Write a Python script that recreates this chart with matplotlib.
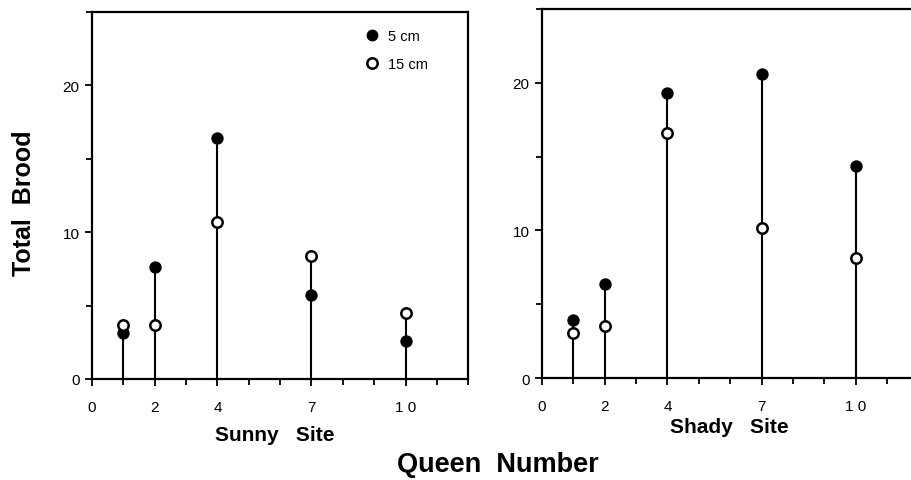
import matplotlib
matplotlib.use('agg')
import matplotlib.pyplot as plt
from matplotlib.lines import Line2D

plt.rcParams['font.family'] = ['Liberation Sans', 'DejaVu Sans']

# данные
queens = [1, 2, 4, 7, 10]
sunny_5cm = [3.15, 7.65, 16.4, 5.7, 2.6]
sunny_15cm = [3.7, 3.65, 10.7, 8.4, 4.5]
shady_5cm = [3.9, 6.4, 19.3, 20.6, 14.4]
shady_15cm = [3.05, 3.55, 16.6, 10.2, 8.1]
x_ticklabels = ['0', '2', '4', '7', '1 0']
x_tickpos = [0, 2, 4, 7, 10]

MS = 7.5


def draw_panel(ax, v5, v15):
    """Стебли от нуля до большего значения, кружки для 5 и 15 см"""
    tops = [max(a, b) for a, b in zip(v5, v15)]
    ax.vlines(queens, 0, tops, color='black', lw=1.5, zorder=2)
    ax.plot(queens, v5, 'o', ms=MS, mfc='black', mec='black', mew=1.4, zorder=3, clip_on=False)
    ax.plot(queens, v15, 'o', ms=MS, mfc='white', mec='black', mew=1.8, zorder=4, clip_on=False)
    ax.set_xlim(0, 12)
    ax.set_ylim(0, 25)
    ax.set_xticks(x_tickpos)
    ax.set_xticklabels(x_ticklabels)
    ax.set_xticks(range(0, 13), minor=True)
    ax.set_yticks([0, 10, 20])
    ax.set_yticks([5, 15, 25], minor=True)
    ax.tick_params(which='both', direction='out', width=1.3, color='black', labelsize=11)
    ax.tick_params(which='major', length=5)
    ax.tick_params(which='minor', length=4)
    ax.tick_params(axis='x', pad=10)
    ax.tick_params(axis='y', pad=4)
    for s in ax.spines.values():
        s.set_linewidth(1.6)


fig = plt.figure(figsize=(9.11, 4.81), dpi=100)
ax1 = fig.add_axes([0.101, 0.210, 0.413, 0.763])
ax2 = fig.add_axes([0.595, 0.212, 0.413, 0.767])

draw_panel(ax1, sunny_5cm, sunny_15cm)
draw_panel(ax2, shady_5cm, shady_15cm)

# легенда
handles = [Line2D([], [], ls='none', marker='o', ms=MS, mfc='black', mec='black'),
           Line2D([], [], ls='none', marker='o', ms=MS, mfc='white', mec='black', mew=1.8)]
ax1.legend(handles, ['5 cm', '15 cm'], loc='upper left', bbox_to_anchor=(0.69, 0.99),
           frameon=False, fontsize=10.5, handletextpad=0.6, labelspacing=1.0, handlelength=1.0)

fig.text(0.302, 0.094, 'Sunny   Site', ha='center', va='center', fontsize=15, fontweight='bold')
fig.text(0.801, 0.112, 'Shady   Site', ha='center', va='center', fontsize=15, fontweight='bold')
fig.text(0.546, 0.033, 'Queen  Number', ha='center', va='center', fontsize=19.5, fontweight='bold')
fig.text(0.026, 0.578, 'Total  Brood', ha='center', va='center', rotation=90,
         fontsize=18, fontweight='bold')

plt.savefig('out.png', dpi=100)
